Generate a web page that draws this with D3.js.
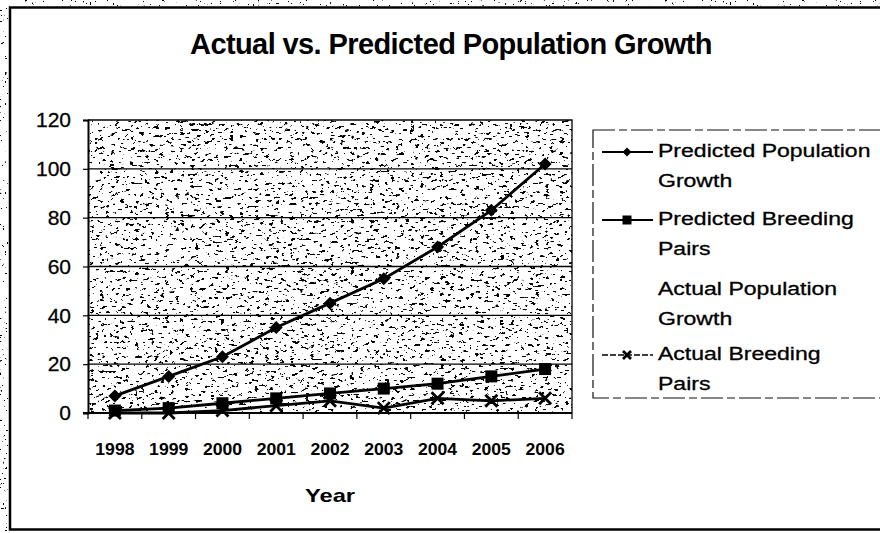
<!DOCTYPE html>
<html>
<head>
<meta charset="utf-8">
<script src="https://cdn.jsdelivr.net/npm/d3@7"></script>
<style>
  html, body { margin: 0; padding: 0; background: #fff; }
  svg { display: block; font-family: "Liberation Sans", Arial, sans-serif; }
</style>
</head>
<body>
<svg id="chart" width="880" height="533"></svg>
<script>
// Data
const years = ["1998", "1999", "2000", "2001", "2002", "2003", "2004", "2005", "2006"];
const predictedPopulation = [7, 15, 23, 35, 45, 55, 68, 83, 102];
const predictedPairs = [1, 2, 4, 6, 8, 10, 12, 15, 18];
const actualPopulation = [];
const actualPairs = [0, 0, 1, 3, 5, 2, 6, 5, 6];
const yTicks = [0, 20, 40, 60, 80, 100, 120];
const seriesNames = ["Predicted Population Growth", "Predicted Breeding Pairs",
                     "Actual Population Growth", "Actual Breeding Pairs"];

const svg = d3.select("#chart");
const W = 880, H = 533;
const plot = { left: 88, right: 572, top: 120, bottom: 413 };

// Speckled fill for the plot area
const defs = svg.append("defs");
const grain = defs.append("filter").attr("id", "grain")
  .attr("x", 0).attr("y", 0).attr("width", 1).attr("height", 1);
grain.append("feTurbulence").attr("type", "fractalNoise")
  .attr("baseFrequency", "0.2 0.34").attr("numOctaves", 3).attr("seed", 11);
grain.append("feColorMatrix").attr("type", "matrix")
  .attr("values", "0 0 0 0 0  0 0 0 0 0  0 0 0 0 0  -32 0 0 0 11.5");

const edge = defs.append("filter").attr("id", "edgeGrain")
  .attr("x", 0).attr("y", 0).attr("width", 1).attr("height", 1);
edge.append("feTurbulence").attr("type", "fractalNoise")
  .attr("baseFrequency", "0.4").attr("numOctaves", 2).attr("seed", 4);
edge.append("feColorMatrix").attr("type", "matrix")
  .attr("values", "0 0 0 0 0  0 0 0 0 0  0 0 0 0 0  -32 0 0 0 9.4");

svg.append("rect").attr("width", W).attr("height", H).attr("fill", "#fff");

// speckled margin outside the chart frame
svg.append("rect").attr("x", 0).attr("y", 0).attr("width", W).attr("height", 6)
  .attr("fill", "#000").attr("filter", "url(#edgeGrain)");
svg.append("rect").attr("x", 0).attr("y", 0).attr("width", 8).attr("height", H)
  .attr("fill", "#000").attr("filter", "url(#edgeGrain)");

// Chart frame
svg.append("rect").attr("x", 10).attr("y", 7.5).attr("width", W + 20).attr("height", 522)
  .attr("fill", "#fff").attr("stroke", "#000").attr("stroke-width", 2.5);

// Scales
const x = d3.scaleBand().domain(years).range([plot.left, plot.right]);
const y = d3.scaleLinear().domain([0, 120]).range([plot.bottom, plot.top]);

// Plot area background
svg.append("rect").attr("x", plot.left).attr("y", plot.top)
  .attr("width", plot.right - plot.left).attr("height", plot.bottom - plot.top)
  .attr("fill", "#fff");
svg.append("rect").attr("x", plot.left).attr("y", plot.top)
  .attr("width", plot.right - plot.left).attr("height", plot.bottom - plot.top)
  .attr("fill", "#000").attr("filter", "url(#grain)");

// Gridlines
svg.append("g").selectAll("line").data(yTicks.filter(d => d > 0 && d < 120)).join("line")
  .attr("x1", plot.left).attr("x2", plot.right)
  .attr("y1", d => y(d)).attr("y2", d => y(d))
  .attr("stroke", "#000").attr("stroke-width", 1.3);

// Plot area border (top, right)
svg.append("path")
  .attr("d", `M${plot.left},${plot.top}H${plot.right}V${plot.bottom}`)
  .attr("fill", "none").attr("stroke", "#000").attr("stroke-width", 1.3);

// Y axis
const yAxis = svg.append("g").attr("transform", `translate(${plot.left},0)`)
  .call(d3.axisLeft(y).tickValues(yTicks).tickSize(5).tickPadding(12).tickFormat(d3.format("d")));
yAxis.select(".domain").attr("stroke", "#000").attr("stroke-width", 2);
yAxis.selectAll(".tick line").attr("stroke", "#000").attr("stroke-width", 1.2);
yAxis.selectAll(".tick text").attr("font-size", 21).attr("fill", "#000")
  .attr("stroke", "#000").attr("stroke-width", 0.3)
  .attr("font-family", "Liberation Sans, Arial, sans-serif");

// X axis: tick marks between categories, labels centred
const xAxis = svg.append("g").attr("transform", `translate(0,${plot.bottom})`);
xAxis.append("line").attr("x1", plot.left - 5).attr("x2", plot.right)
  .attr("stroke", "#000").attr("stroke-width", 2);
const bounds = years.map(d => x(d)).concat([x.range()[1]]);
xAxis.selectAll("line.tk").data(bounds).join("line").attr("class", "tk")
  .attr("x1", d => d).attr("x2", d => d).attr("y1", 0).attr("y2", 6)
  .attr("stroke", "#000").attr("stroke-width", 1.2);
xAxis.selectAll("text").data(years).join("text")
  .attr("transform", d => `translate(${x(d) + x.bandwidth() / 2},42) scale(1.1,1)`)
  .attr("text-anchor", "middle").attr("font-size", 16).attr("font-weight", "bold")
  .text(d => d);

// Series
const cx = d => x(d) + x.bandwidth() / 2;
const line = d3.line().x(d => cx(d.year)).y(d => y(d.value));
const toPts = vals => vals.map((v, i) => ({ year: years[i], value: v }));

function drawMarker(g, type, px, py, s) {
  if (type === "diamond") {
    g.append("path").attr("d", `M${px},${py - s}L${px + s},${py}L${px},${py + s}L${px - s},${py}Z`)
      .attr("fill", "#000");
  } else if (type === "square") {
    g.append("rect").attr("x", px - s).attr("y", py - s).attr("width", 2 * s).attr("height", 2 * s)
      .attr("fill", "#000");
  } else if (type === "x") {
    g.append("path").attr("d", `M${px - s},${py - s}L${px + s},${py + s}M${px - s},${py + s}L${px + s},${py - s}`)
      .attr("stroke", "#000").attr("stroke-width", 2.8).attr("fill", "none");
  }
}

const series = [
  { values: predictedPopulation, marker: "diamond", size: 6.5 },
  { values: predictedPairs, marker: "square", size: 6 },
  { values: actualPopulation, marker: null, size: 0 },
  { values: actualPairs, marker: "x", size: 6 }
];

const gSeries = svg.append("g");
series.forEach(s => {
  if (!s.values.length) return;
  const pts = toPts(s.values);
  gSeries.append("path").datum(pts).attr("d", line)
    .attr("fill", "none").attr("stroke", "#000").attr("stroke-width", 2.8);
  pts.forEach(p => drawMarker(gSeries, s.marker, cx(p.year), y(p.value), s.size));
});

// Axis title and chart title
svg.append("text").attr("transform", "translate(330,502) scale(1.25,1)")
  .attr("text-anchor", "middle").attr("font-size", 19).attr("font-weight", "bold")
  .text("Year");
svg.append("text").attr("x", 451).attr("y", 54)
  .attr("text-anchor", "middle").attr("font-size", 29).attr("font-weight", "bold")
  .attr("letter-spacing", -0.6)
  .text("Actual vs. Predicted Population Growth");

// Legend
const lg = svg.append("g");
lg.append("rect").attr("x", 593).attr("y", 130).attr("width", 330).attr("height", 268)
  .attr("fill", "#fff").attr("stroke", "#111").attr("stroke-width", 1.2)
  .attr("stroke-dasharray", "22,4,8,4");
const legendRows = [
  { name: seriesNames[0], lines: ["Predicted Population", "Growth"], y: 157, sym: "diamond", dash: null },
  { name: seriesNames[1], lines: ["Predicted Breeding", "Pairs"], y: 225, sym: "square", dash: null },
  { name: seriesNames[2], lines: ["Actual Population", "Growth"], y: 295, sym: null, dash: null },
  { name: seriesNames[3], lines: ["Actual Breeding", "Pairs"], y: 360, sym: "x", dash: "6,2" }
];
legendRows.forEach(r => {
  const sy = r.y - 5;
  if (r.sym) {
    lg.append("line").attr("x1", 602).attr("x2", 653).attr("y1", sy).attr("y2", sy)
      .attr("stroke", "#000").attr("stroke-width", r.sym === "x" ? 1.4 : 2)
      .attr("stroke-dasharray", r.dash);
    drawMarker(lg, r.sym, 627, sy, r.sym === "x" ? 4 : 4.5);
  }
  r.lines.forEach((t, i) => {
    lg.append("text").attr("transform", `translate(658,${r.y + i * 30}) scale(1.28,1)`)
      .attr("font-size", 18).attr("fill", "#000")
      .attr("stroke", "#000").attr("stroke-width", 0.3).text(t);
  });
});
</script>
</body>
</html>
